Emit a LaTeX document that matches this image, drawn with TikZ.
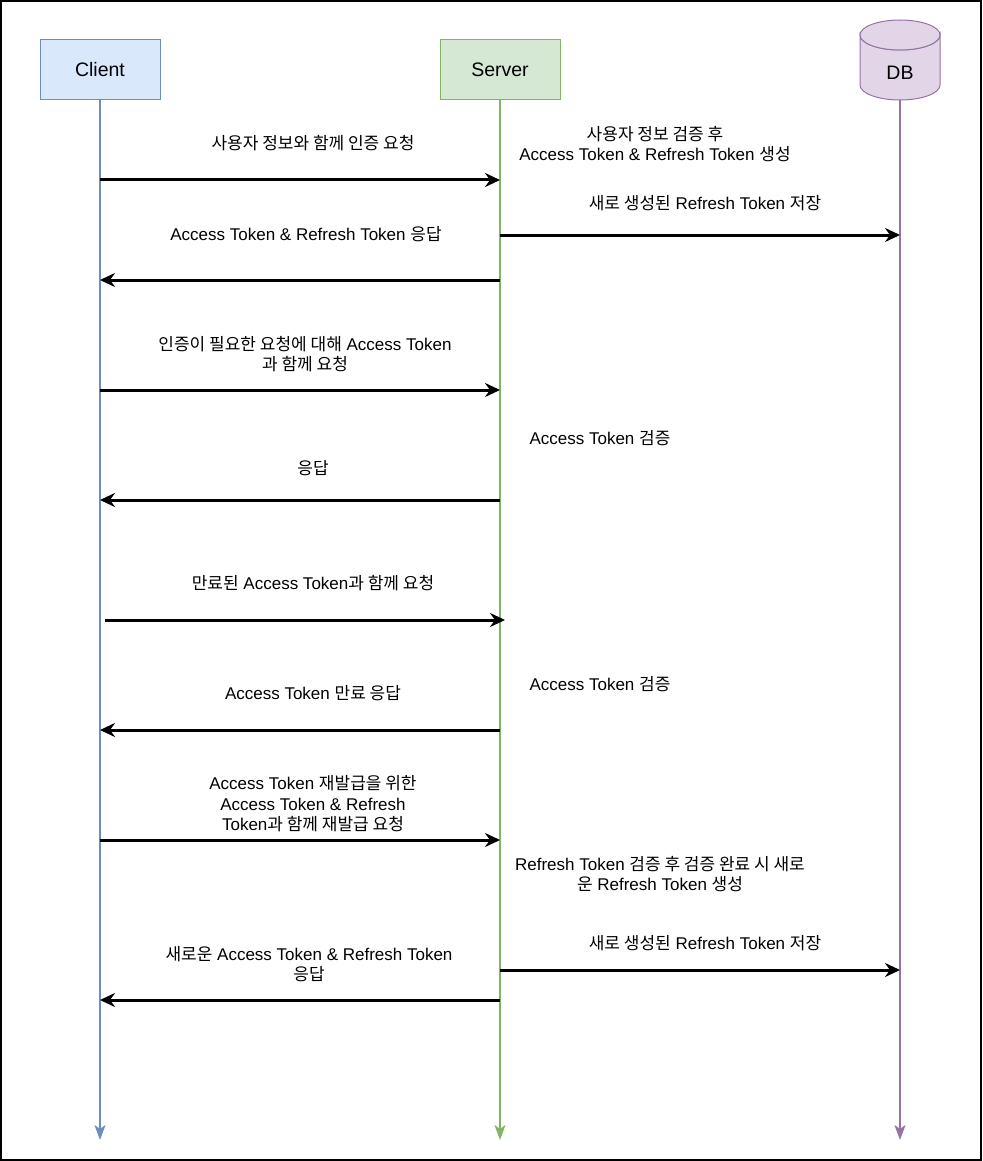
\documentclass[tikz,border=0pt]{standalone}
\usepackage{fontspec}
\setmainfont{Liberation Sans}
\newfontfamily\kr[Scale=1.0]{Noto Sans CJK KR}
\usetikzlibrary{arrows.meta,shapes.geometric}
\definecolor{cbluef}{HTML}{DAE8FC}\definecolor{cbluel}{HTML}{6C8EBF}
\definecolor{cgreenf}{HTML}{D5E8D4}\definecolor{cgreenl}{HTML}{82B366}
\definecolor{cpurf}{HTML}{E1D5E7}\definecolor{cpurl}{HTML}{9673A6}
\tikzset{
  actor/.style={draw, line width=1pt, minimum width=120, minimum height=60, inner sep=0, font=\fontsize{19.5}{23}\selectfont},
  lifeline/.style={line width=2pt, -{Stealth[length=15, width=11, inset=4]}},
  msg/.style={line width=3pt, -{Stealth[length=15, width=14, inset=5]}},
  lbl/.style={inner sep=0, align=center, font=\fontsize{17}{20.5}\selectfont},
}
\begin{document}
\begin{tikzpicture}[x=1pt,y=-1pt]
\useasboundingbox (0,0) rectangle (982,1161);
\draw[line width=2pt] (1,1) rectangle (981,1160);
% actors
\node[actor, fill=cbluef, draw=cbluel] (client) at (100,70) {Client};
\node[actor, fill=cgreenf, draw=cgreenl] (server) at (500,70) {Server};
\path[fill=cpurf, draw=cpurl, line width=1pt]
  (860,35) arc[start angle=180, end angle=360, x radius=40, y radius=-15]
  -- (940,85) arc[start angle=0, end angle=-180, x radius=40, y radius=-15] -- cycle;
\draw[cpurl, line width=1pt, fill=cpurf] (900,35) ellipse[x radius=40, y radius=15];
\node[inner sep=0, minimum width=80, minimum height=80, font=\fontsize{19.5}{23}\selectfont] (db) at (900,60) {};
\node[inner sep=0, font=\fontsize{19.5}{23}\selectfont] (dbl) at (900,73) {DB};
% lifelines
\draw[lifeline, cbluel] (client.south) -- (client.south |- 0,1140);
\draw[lifeline, cgreenl] (server.south) -- (server.south |- 0,1140);
\draw[lifeline, cpurl] (db.south) -- (db.south |- 0,1140);
% messages
\draw[msg] (client.south |- 0,180) -- (server.south |- 0,180);
\draw[msg] (server.south |- 0,235) -- (db.south |- 0,235);
\draw[msg] (server.south |- 0,280) -- (client.south |- 0,280);
\draw[msg] (client.south |- 0,390) -- (server.south |- 0,390);
\draw[msg] (server.south |- 0,500) -- (client.south |- 0,500);
\draw[msg] ([xshift=5]client.south |- 0,620) -- ([xshift=5]server.south |- 0,620);
\draw[msg] (server.south |- 0,730) -- (client.south |- 0,730);
\draw[msg] (client.south |- 0,840) -- (server.south |- 0,840);
\draw[msg] (server.south |- 0,970) -- (db.south |- 0,970);
\draw[msg] (server.south |- 0,1000) -- (client.south |- 0,1000);
% labels
\node[lbl] (l1) at (313,143) {{\kr 사용자 정보와 함께 인증 요청}};
\node[lbl] (l2) at (655,144) {{\kr 사용자 정보 검증 후}\\Access Token \& Refresh Token {\kr 생성}};
\node[lbl] (l3) at (705,203) {{\kr 새로 생성된} Refresh Token {\kr 저장}};
\node[lbl] (l4) at (306,234) {Access Token \& Refresh Token {\kr 응답}};
\node[lbl] (l5) at (305,354) {{\kr 인증이 필요한 요청에 대해} Access Token\\{\kr 과 함께 요청}};
\node[lbl] (l6) at (600,438) {Access Token {\kr 검증}};
\node[lbl] (l7) at (313,468) {{\kr 응답}};
\node[lbl] (l8) at (313,583) {{\kr 만료된} Access Token{\kr 과 함께 요청}};
\node[lbl] (l9) at (600,684) {Access Token {\kr 검증}};
\node[lbl] (l10) at (313,693) {Access Token {\kr 만료 응답}};
\node[lbl] (l11) at (313,804) {Access Token {\kr 재발급을 위한}\\Access Token \& Refresh\\Token{\kr 과 함께 재발급 요청}};
\node[lbl] (l12) at (660,874) {Refresh Token {\kr 검증 후 검증 완료 시 새로}\\{\kr 운} Refresh Token {\kr 생성}};
\node[lbl] (l13) at (705,943) {{\kr 새로 생성된} Refresh Token {\kr 저장}};
\node[lbl] (l14) at (309,964) {{\kr 새로운} Access Token \& Refresh Token\\{\kr 응답}};
\end{tikzpicture}
\end{document}
